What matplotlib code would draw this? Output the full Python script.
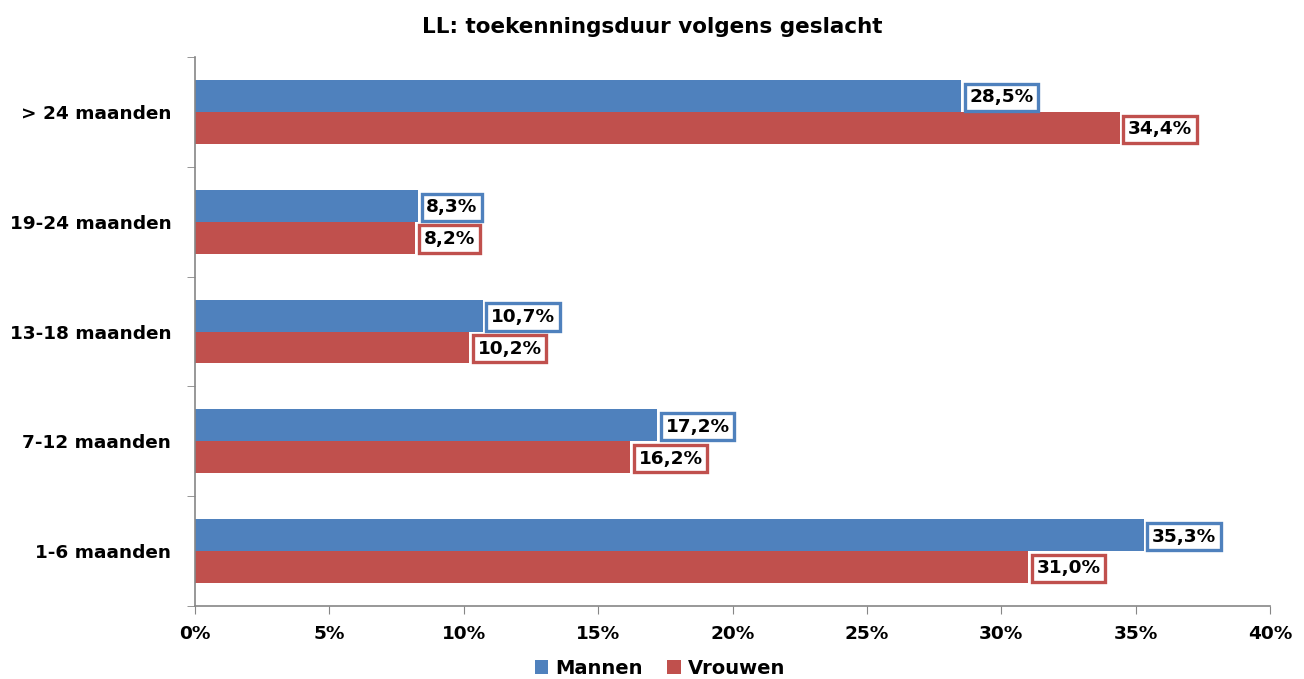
import numpy as np
import matplotlib
matplotlib.use("Agg")
import matplotlib.pyplot as plt

# data
categorieen = ["1-6 maanden", "7-12 maanden", "13-18 maanden", "19-24 maanden", "> 24 maanden"]
mannen = [35.3, 17.2, 10.7, 8.3, 28.5]
vrouwen = [31.0, 16.2, 10.2, 8.2, 34.4]
xticks = [0, 5, 10, 15, 20, 25, 30, 35, 40]

BLAUW = "#4F81BD"
ROOD = "#C0504D"
GRIJS = "#868686"
FS = 13.3

plt.rcParams["font.family"] = "DejaVu Sans"
plt.rcParams["font.weight"] = "bold"

fig = plt.figure(figsize=(13.04, 6.79), dpi=100)
ax = fig.add_axes([0.1495, 0.1075, 0.8245, 0.8085])

y = np.arange(len(categorieen))
h = 0.29
b1 = ax.barh(y + h / 2, mannen, height=h, color=BLAUW, label="Mannen")
b2 = ax.barh(y - h / 2, vrouwen, height=h, color=ROOD, label="Vrouwen")

# labels met kader
for bars, vals, kleur in [(b1, mannen, BLAUW), (b2, vrouwen, ROOD)]:
    for bar, v in zip(bars, vals):
        ax.annotate(f"{v:.1f}%".replace(".", ","),
                    xy=(bar.get_width(), bar.get_y() + bar.get_height() / 2),
                    xytext=(6, -1), textcoords="offset points",
                    ha="left", va="center", fontsize=FS, fontweight="bold",
                    bbox=dict(boxstyle="square,pad=0.25", fc="white", ec=kleur, lw=2.4))

ax.set_xlim(0, 40)
ax.set_ylim(-0.5, len(categorieen) - 0.5)
ax.set_xticks(xticks)
ax.set_xticklabels([f"{t}%" for t in xticks], fontsize=FS, fontweight="bold")
ax.set_yticks(y)
ax.set_yticklabels(categorieen, fontsize=FS, fontweight="bold")
ax.set_yticks(np.arange(-0.5, len(categorieen)), minor=True)
ax.tick_params(axis="y", which="major", length=0, pad=17)
ax.tick_params(axis="y", which="minor", length=6, color=GRIJS, direction="out")
ax.tick_params(axis="x", length=6, color=GRIJS, direction="out", pad=8)

for s in ["top", "right"]:
    ax.spines[s].set_visible(False)
for s in ["left", "bottom"]:
    ax.spines[s].set_color(GRIJS)
    ax.spines[s].set_linewidth(1.2)

fig.suptitle("LL: toekenningsduur volgens geslacht", fontsize=15.5, fontweight="bold", y=0.975)

fig.legend(handles=[b1, b2], loc="lower center", bbox_to_anchor=(0.506, -0.024), ncol=2,
           frameon=False, fontsize=14, handlelength=0.7, handleheight=0.7,
           columnspacing=1.25, handletextpad=0.35)

fig.savefig("out.png", dpi=100)
